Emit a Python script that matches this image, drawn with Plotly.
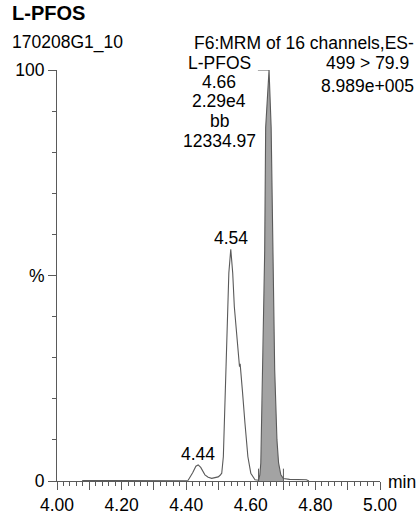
import plotly.graph_objects as go

# ---- data (retention time in min, relative intensity in %) ----
times = [4.078, 4.20, 4.30, 4.400, 4.406, 4.420, 4.430, 4.437, 4.445, 4.458, 4.468, 4.479,
         4.490, 4.499, 4.505, 4.510, 4.515, 4.520, 4.525, 4.532, 4.538, 4.544, 4.549,
         4.557, 4.563, 4.565, 4.567, 4.570, 4.574, 4.582, 4.591, 4.600, 4.613, 4.624,
         4.628, 4.631, 4.637, 4.643, 4.646, 4.6565, 4.663, 4.669, 4.674, 4.681, 4.686,
         4.693, 4.701, 4.720, 4.750, 4.772, 4.780]
intensity = [0.1, 0.1, 0.1, 0.1, 0.2, 2.0, 3.6, 3.9, 3.3, 1.5, 0.9, 0.65,
             0.8, 1.0, 1.4, 1.9, 5.9, 18.0, 34.3, 50.6, 56.4, 50.6, 42.4,
             34.3, 29.0, 27.8, 28.5, 26.0, 22.0, 14.0, 5.9, 1.9, 0.3, 0.2,
             1.5, 4.4, 27.0, 56.0, 86.0, 100.0, 86.0, 56.0, 27.0, 10.0, 4.4,
             1.5, 0.6, 0.4, 0.4, 0.3, 0.0]

integration_bounds = [4.624, 4.701]   # integrated peak start/end
peak_labels = [("4.44", 4.437, 3.9), ("4.54", 4.538, 56.4)]
main_peak_rt = 4.6565
main_peak_text = ["L-PFOS", "4.66", "2.29e4", "bb", "12334.97"]

x_ticks = [4.0, 4.1, 4.2, 4.3, 4.4, 4.5, 4.6, 4.7, 4.8, 4.9, 5.0]
x_ticktext = ["4.00", "", "4.20", "", "4.40", "", "4.60", "", "4.80", "", "5.00"]
y_ticks = [0, 50, 100]
y_ticktext = ["0", "%", "100"]

FONT = "Liberation Sans, Arial, sans-serif"
FS = 17.5
LINE = "#5a5a5a"
FILL = "#a3a3a3"

fig = go.Figure()

# shaded integrated area
fx = [t for t in times if integration_bounds[0] <= t <= integration_bounds[1]]
fy = [v for t, v in zip(times, intensity) if integration_bounds[0] <= t <= integration_bounds[1]]
fig.add_trace(go.Scatter(x=[fx[0]] + fx + [fx[-1]], y=[0] + fy + [0], fill="toself",
                         fillcolor=FILL, line=dict(width=0), mode="lines",
                         hoverinfo="skip", showlegend=False))

# chromatogram trace
fig.add_trace(go.Scatter(x=times, y=intensity, mode="lines",
                         line=dict(color=LINE, width=1.1), showlegend=False))

# integration boundary markers
for b in integration_bounds:
    fig.add_shape(type="line", x0=b, x1=b, y0=0, y1=3.0, xref="x", yref="y",
                  line=dict(color=LINE, width=1))

# connector from main label to peak apex
fig.add_shape(type="line", x0=4.622, x1=main_peak_rt, y0=100, y1=100, xref="x", yref="y",
              line=dict(color=LINE, width=1))

ann = []
for txt, x, y in peak_labels:
    ann.append(dict(x=x, y=y, xref="x", yref="y", text=txt, showarrow=False,
                    yanchor="bottom", yshift=-1, font=dict(size=FS, color="black", family=FONT)))

# main peak label block (pixel rows converted to paper)
block_rows = [62.5, 82, 101.5, 121, 140.5]
for txt, py in zip(main_peak_text, block_rows):
    ann.append(dict(x=(219 - 57) / 323, y=(481 - py) / 411, xref="paper", yref="paper",
                    text=txt, showarrow=False, xanchor="center", yanchor="middle",
                    font=dict(size=FS, color="black", family=FONT)))

# header texts
ann.append(dict(x=(10 - 57) / 323, y=(481 - 13) / 411, xref="paper", yref="paper",
                text="<b>L-PFOS</b>", showarrow=False, xanchor="left", yanchor="middle",
                font=dict(size=20, color="black", family=FONT)))
ann.append(dict(x=(10 - 57) / 323, y=(481 - 43) / 411, xref="paper", yref="paper",
                text="170208G1_10", showarrow=False, xanchor="left", yanchor="middle",
                font=dict(size=FS, color="black", family=FONT)))
for txt, px, py in [("F6:MRM of 16 channels,ES-", 416, 43), ("499 > 79.9", 411, 63.5),
                    ("8.989e+005", 416, 85.5)]:
    ann.append(dict(x=(px - 57) / 323, y=(481 - py) / 411, xref="paper", yref="paper",
                    text=txt, showarrow=False, xanchor="right", yanchor="middle",
                    font=dict(size=FS, color="black", family=FONT)))
ann.append(dict(x=(386 - 57) / 323, y=(481 - 482) / 411, xref="paper", yref="paper",
                text="min", showarrow=False, xanchor="left", yanchor="middle",
                font=dict(size=FS, color="black", family=FONT)))

fig.update_layout(
    width=419, height=513,
    margin=dict(l=57, r=39, t=70, b=32, autoexpand=False),
    paper_bgcolor="white", plot_bgcolor="white",
    annotations=ann,
    font=dict(family=FONT, color="black", size=FS),
    xaxis=dict(range=[4.0, 5.0], showgrid=False, zeroline=False, showline=True,
               automargin=False,
               linecolor=LINE, linewidth=1, ticks="outside", ticklen=8, tickwidth=1,
               tickcolor=LINE, tickvals=x_ticks, ticktext=x_ticktext,
               tickfont=dict(size=FS, color="black", family=FONT),
               minor=dict(dtick=0.02, tick0=4.0, ticks="outside", ticklen=4, tickcolor=LINE,
                          showgrid=False)),
    yaxis=dict(range=[0, 100], showgrid=False, zeroline=False, showline=True,
               automargin=False,
               linecolor=LINE, linewidth=1, ticks="outside", ticklen=8, tickwidth=1,
               tickcolor=LINE, tickvals=y_ticks, ticktext=y_ticktext,
               tickfont=dict(size=FS, color="black", family=FONT),
               minor=dict(dtick=10, tick0=0, ticks="outside", ticklen=4, tickcolor=LINE,
                          showgrid=False)),
)

fig.write_html("out.html")
